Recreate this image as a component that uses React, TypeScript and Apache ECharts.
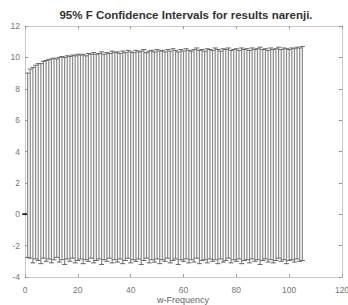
import React, { useEffect, useRef } from "react";
import * as echarts from "echarts";

const titleText = "95% F Confidence Intervals for results narenji.";
const xName = "w-Frequency";

const freq = [
  0, 1, 2, 3, 4, 5, 6, 7, 8, 9, 10, 11, 12, 13, 14, 15, 16, 17, 18, 19, 20,
  21, 22, 23, 24, 25, 26, 27, 28, 29, 30, 31, 32, 33, 34, 35, 36, 37, 38, 39, 40,
  41, 42, 43, 44, 45, 46, 47, 48, 49, 50, 51, 52, 53, 54, 55, 56, 57, 58, 59, 60,
  61, 62, 63, 64, 65, 66, 67, 68, 69, 70, 71, 72, 73, 74, 75, 76, 77, 78, 79, 80,
  81, 82, 83, 84, 85, 86, 87, 88, 89, 90, 91, 92, 93, 94, 95, 96, 97, 98, 99, 100,
  101, 102, 103, 104, 105,
];

const upper = [
  0,
  9.0, 9.25, 9.35, 9.5, 9.6, 9.6, 9.75, 9.8, 9.85, 9.9,
  9.95, 9.9, 10.0, 10.05, 10.0, 10.1, 10.05, 10.15, 10.1, 10.2,
  10.15, 10.2, 10.1, 10.25, 10.2, 10.3, 10.2, 10.25, 10.35, 10.2,
  10.3, 10.25, 10.4, 10.3, 10.35, 10.25, 10.4, 10.3, 10.45, 10.35,
  10.3, 10.45, 10.35, 10.4, 10.5, 10.3, 10.4, 10.45, 10.35, 10.5,
  10.4, 10.45, 10.35, 10.5, 10.4, 10.55, 10.45, 10.35, 10.5, 10.4,
  10.55, 10.45, 10.4, 10.5, 10.6, 10.45, 10.5, 10.4, 10.55, 10.5,
  10.45, 10.6, 10.5, 10.4, 10.55, 10.5, 10.6, 10.45, 10.5, 10.55,
  10.45, 10.6, 10.5, 10.55, 10.45, 10.6, 10.5, 10.55, 10.65, 10.5,
  10.55, 10.45, 10.6, 10.5, 10.55, 10.65, 10.5, 10.6, 10.55, 10.5,
  10.6, 10.55, 10.65, 10.6, 10.7,
];

const lower = [
  0,
  -2.75, -2.8, -3.1, -2.85, -2.95, -3.15, -2.8, -3.0, -2.85, -3.1,
  -2.9, -2.75, -3.05, -2.9, -3.2, -2.85, -3.0, -2.8, -3.1, -2.95,
  -2.85, -3.15, -2.9, -3.0, -2.8, -3.1, -2.95, -2.85, -3.2, -2.9,
  -3.0, -2.8, -3.1, -2.9, -3.05, -2.85, -3.15, -2.95, -2.8, -3.1,
  -2.9, -3.0, -2.85, -3.2, -2.95, -2.8, -3.1, -2.9, -3.05, -2.85,
  -3.15, -2.9, -3.0, -2.8, -3.1, -2.95, -2.85, -3.2, -2.9, -3.0,
  -2.85, -3.1, -2.9, -3.05, -2.8, -3.15, -2.95, -2.9, -3.1, -2.85,
  -3.0, -2.9, -3.15, -2.85, -3.05, -2.95, -2.8, -3.1, -2.9, -3.0,
  -2.85, -3.15, -2.95, -2.9, -3.1, -2.85, -3.0, -2.9, -3.2, -2.95,
  -2.85, -3.05, -2.9, -3.1, -2.95, -2.8, -3.0, -2.9, -3.15, -2.95,
  -2.9, -3.05, -2.85, -3.0, -2.95,
];

const FONT = "'Liberation Sans', Arial, sans-serif";

export default function App() {
  const ref = useRef<HTMLDivElement>(null);
  useEffect(() => {
    if (!ref.current) return;
    const chart = echarts.init(ref.current, undefined, { renderer: "svg" });
    const data = freq.map((w, i) => [w, lower[i], upper[i]]);
    const axisCommon = {
      axisLine: { show: true, onZero: false, lineStyle: { color: "#c8c8c8", width: 1 } },
      axisTick: { show: true, inside: true, length: 3, lineStyle: { color: "#999" } },
      splitLine: { show: false },
    };
    chart.setOption({
      animation: false,
      backgroundColor: "#ffffff",
      graphic: [
        {
          type: "text",
          x: 186,
          y: 15,
          style: {
            text: titleText,
            font: `bold 11.5px ${FONT}`,
            fill: "#333",
            textAlign: "center",
            textVerticalAlign: "middle",
          },
        },
        {
          type: "text",
          x: 183,
          y: 304,
          style: {
            text: xName,
            font: `9px ${FONT}`,
            fill: "#666",
            textAlign: "center",
            textVerticalAlign: "bottom",
          },
        },
      ],
      grid: {
        left: 25,
        right: 6,
        top: 26,
        bottom: 28,
        containLabel: false,
        outerBoundsMode: "none",
      },
      xAxis: [
        {
          type: "value",
          min: 0,
          max: 120,
          interval: 20,
          position: "bottom",
          axisLabel: { color: "#777", fontSize: 8.5, fontFamily: FONT, margin: 8 },
          ...axisCommon,
        },
        {
          type: "value",
          min: 0,
          max: 120,
          interval: 20,
          position: "top",
          axisLabel: { show: false },
          ...axisCommon,
        },
      ],
      yAxis: [
        {
          type: "value",
          min: -4,
          max: 12,
          interval: 2,
          position: "left",
          axisLabel: { color: "#777", fontSize: 8.5, fontFamily: FONT, margin: 5 },
          ...axisCommon,
        },
        {
          type: "value",
          min: -4,
          max: 12,
          interval: 2,
          position: "right",
          axisLabel: { show: false },
          ...axisCommon,
        },
      ],
      series: [
        {
          type: "custom",
          xAxisIndex: 0,
          yAxisIndex: 0,
          encode: { x: 0, y: [1, 2] },
          data,
          clip: false,
          renderItem: (params: any, api: any) => {
            const x = api.value(0);
            const lo = api.value(1);
            const hi = api.value(2);
            const pLo = api.coord([x, lo]);
            const pHi = api.coord([x, hi]);
            const hw = 2.5;
            const degenerate = lo === hi;
            return {
              type: "group",
              children: [
                {
                  type: "line",
                  shape: { x1: pLo[0], y1: pLo[1], x2: pHi[0], y2: pHi[1] },
                  style: { stroke: "#8a8a8a", lineWidth: 1.2 },
                },
                {
                  type: "line",
                  shape: { x1: pLo[0] - hw, y1: pLo[1], x2: pLo[0] + hw, y2: pLo[1] },
                  style: { stroke: degenerate ? "#222" : "#666", lineWidth: degenerate ? 1.6 : 1 },
                },
                {
                  type: "line",
                  shape: { x1: pHi[0] - hw, y1: pHi[1], x2: pHi[0] + hw, y2: pHi[1] },
                  style: { stroke: degenerate ? "#222" : "#666", lineWidth: degenerate ? 1.6 : 1 },
                },
              ],
            };
          },
        },
      ],
    });
    return () => chart.dispose();
  }, []);
  return (
    <div
      ref={ref}
      style={{ position: "fixed", left: 0, top: 0, width: 348, height: 305 }}
    />
  );
}
